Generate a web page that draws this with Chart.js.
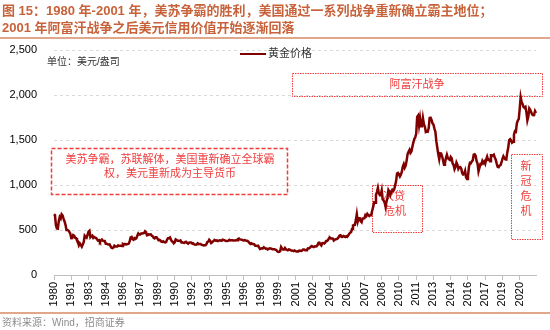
<!DOCTYPE html>
<html>
<head>
<meta charset="utf-8">
<script src="https://cdn.jsdelivr.net/npm/chart.js@4"></script>
<style>
  html, body { margin: 0; padding: 0; background: #fff; }
  #wrap { width: 550px; height: 330px; }
</style>
</head>
<body>
<div id="wrap"><canvas id="goldChart" width="550" height="330"></canvas></div>
<script>
// monthly categories, Jan 1980 - Dec 2021
const months = [];
for (let y = 1980; y <= 2021; y++) {
    for (let m = 1; m <= 12; m++) months.push(y + '-' + String(m).padStart(2, '0'));
}

// gold price, USD/oz, one row per year
const goldPrice = [
    675, 665, 553, 517, 514, 600, 644, 627, 674, 661, 623, 595, // 1980
    557, 500, 499, 495, 480, 460, 409, 410, 443, 437, 413, 410, // 1981
    384, 374, 330, 350, 334, 315, 339, 364, 436, 422, 414, 444, // 1982
    481, 491, 420, 432, 438, 413, 422, 416, 411, 394, 382, 388, // 1983
    370, 386, 394, 381, 377, 378, 347, 348, 341, 340, 341, 320, // 1984
    303, 299, 304, 325, 316, 317, 317, 330, 323, 326, 325, 322, // 1985
    345, 339, 346, 340, 342, 343, 348, 376, 418, 423, 398, 391, // 1986
    409, 401, 409, 438, 461, 450, 450, 460, 460, 465, 467, 487, // 1987
    477, 442, 444, 452, 451, 452, 437, 432, 413, 407, 420, 419, // 1988
    404, 388, 390, 384, 371, 368, 375, 365, 362, 367, 394, 409, // 1989
    410, 417, 393, 374, 369, 352, 362, 395, 389, 380, 381, 378, // 1990
    384, 363, 364, 358, 357, 367, 368, 356, 349, 359, 361, 361, // 1991
    354, 354, 345, 338, 337, 340, 353, 343, 345, 344, 335, 334, // 1992
    329, 330, 330, 342, 367, 371, 392, 379, 355, 364, 374, 383, // 1993
    387, 382, 384, 377, 381, 386, 385, 380, 392, 390, 384, 380, // 1994
    379, 377, 382, 391, 385, 387, 386, 383, 383, 383, 386, 387, // 1995
    400, 405, 396, 393, 392, 385, 383, 387, 383, 381, 378, 369, // 1996
    355, 346, 352, 344, 344, 341, 324, 324, 323, 325, 306, 289, // 1997
    289, 297, 296, 308, 299, 292, 293, 284, 289, 296, 294, 291, // 1998
    287, 287, 286, 282, 277, 262, 256, 257, 265, 311, 293, 283, // 1999
    284, 300, 286, 280, 275, 285, 282, 275, 273, 270, 266, 272, // 2000
    266, 262, 263, 261, 272, 270, 268, 273, 283, 283, 276, 276, // 2001
    282, 296, 294, 302, 314, 322, 314, 310, 319, 317, 319, 333, // 2002
    357, 359, 340, 328, 355, 356, 351, 360, 379, 379, 389, 407, // 2003
    414, 405, 406, 404, 383, 392, 398, 400, 406, 420, 439, 442, // 2004
    424, 423, 434, 429, 422, 431, 424, 438, 457, 470, 476, 510, // 2005
    549, 555, 557, 610, 676, 596, 633, 632, 598, 586, 628, 629, // 2006
    631, 665, 655, 679, 667, 655, 665, 665, 712, 754, 806, 803, // 2007
    889, 922, 968, 909, 888, 889, 939, 839, 829, 807, 760, 816, // 2008
    858, 943, 924, 890, 928, 946, 934, 949, 996, 1043, 1127, 1134, // 2009
    1118, 1095, 1113, 1148, 1205, 1232, 1193, 1215, 1271, 1343, 1370, 1391, // 2010
    1356, 1372, 1424, 1473, 1510, 1529, 1572, 1756, 1772, 1666, 1739, 1652, // 2011
    1656, 1743, 1675, 1649, 1591, 1598, 1594, 1630, 1745, 1747, 1722, 1685, // 2012
    1671, 1627, 1593, 1487, 1414, 1343, 1286, 1352, 1349, 1317, 1275, 1225, // 2013
    1244, 1300, 1336, 1299, 1287, 1279, 1311, 1296, 1239, 1222, 1176, 1201, // 2014
    1251, 1227, 1179, 1198, 1199, 1182, 1131, 1117, 1125, 1157, 1086, 1068, // 2015
    1097, 1199, 1246, 1242, 1261, 1276, 1337, 1341, 1326, 1266, 1238, 1151, // 2016
    1192, 1234, 1231, 1267, 1245, 1260, 1236, 1283, 1315, 1280, 1282, 1265, // 2017
    1331, 1331, 1325, 1335, 1304, 1281, 1238, 1202, 1198, 1215, 1221, 1250, // 2018
    1291, 1320, 1300, 1286, 1284, 1359, 1413, 1500, 1510, 1495, 1471, 1480, // 2019
    1560, 1597, 1591, 1683, 1716, 1732, 1846, 1975, 1921, 1900, 1866, 1858, // 2020
    1867, 1808, 1718, 1760, 1850, 1834, 1807, 1785, 1776, 1777, 1821, 1800  // 2021
];

// x-axis labels, one every 18 months
const tickStep = 18;
const xTickLabels = ['1980', '1981', '1983', '1984', '1986', '1987', '1989', '1990', '1992', '1993',
    '1995', '1996', '1998', '1999', '2001', '2002', '2004', '2005', '2007', '2008',
    '2010', '2011', '2013', '2014', '2016', '2017', '2019', '2020'];

const TITLE_COLOR = '#c8623a';
const NOTE_COLOR = '#f03c3c';
const CJK = '"Liberation Sans", "Noto Sans CJK SC", sans-serif';

// title, source, legend and the red note boxes
const decorPlugin = {
    id: 'decor',
    beforeDatasetsDraw(chart) {
        const ctx = chart.ctx;
        ctx.save();
        const box = (x, y, w, h, dash, lw) => {
            ctx.strokeStyle = NOTE_COLOR;
            ctx.lineWidth = lw;
            ctx.setLineDash(dash);
            ctx.strokeRect(x, y, w, h);
        };
        box(51.5, 148.5, 236, 46, [4, 2], 1.5);
        box(292.5, 73.5, 250, 23, [1.5, 1], 1);
        box(372.5, 185.5, 50, 47, [1.5, 1], 1);
        box(511.5, 154.5, 31, 85, [1.5, 1], 1);
        ctx.setLineDash([]);

        ctx.fillStyle = NOTE_COLOR;
        ctx.font = '11px ' + CJK;
        ctx.textAlign = 'center';
        ctx.textBaseline = 'middle';
        ctx.fillText('美苏争霸，苏联解体，美国重新确立全球霸', 170, 160);
        ctx.fillText('权，美元重新成为主导货币', 170, 174);
        ctx.fillText('阿富汗战争', 417, 85);
        ctx.fillText('次贷', 394, 197);
        ctx.fillText('危机', 395, 212);
        ['新', '冠', '危', '机'].forEach((ch, i) => ctx.fillText(ch, 526, 167 + i * 15));
        ctx.restore();
    },
    afterDraw(chart) {
        const ctx = chart.ctx;
        ctx.save();
        ctx.textBaseline = 'middle';
        ctx.textAlign = 'left';

        ctx.fillStyle = TITLE_COLOR;
        ctx.font = 'bold 13px ' + CJK;
        ctx.fillText('图 15：1980 年-2001 年，美苏争霸的胜利，美国通过一系列战争重新确立霸主地位；', 2, 11);
        ctx.fillText('2001 年阿富汗战争之后美元信用价值开始逐渐回落', 2, 28);

        ctx.strokeStyle = '#d88a66';
        ctx.lineWidth = 1.5;
        ctx.beginPath();
        ctx.moveTo(0, 38); ctx.lineTo(550, 38);
        ctx.moveTo(0, 313); ctx.lineTo(550, 313);
        ctx.stroke();

        ctx.fillStyle = '#8c8c8c';
        ctx.font = '10px ' + CJK;
        ctx.fillText('资料来源：Wind，招商证券', 2, 323);

        ctx.fillStyle = '#333';
        ctx.fillText('单位：美元/盎司', 47, 62);

        ctx.strokeStyle = '#800000';
        ctx.lineWidth = 2;
        ctx.beginPath();
        ctx.moveTo(240, 54); ctx.lineTo(266, 54);
        ctx.stroke();
        ctx.font = '11px ' + CJK;
        ctx.fillText('黄金价格', 268, 54);
        ctx.restore();
    }
};

new Chart(document.getElementById('goldChart'), {
    type: 'line',
    data: {
        labels: months,
        datasets: [{
            label: '黄金价格',
            data: goldPrice,
            borderColor: '#800000',
            borderWidth: 2.5,
            pointRadius: 0,
            tension: 0,
            fill: false
        }]
    },
    options: {
        responsive: false,
        devicePixelRatio: 1,
        animation: false,
        layout: { padding: { top: 50, left: 8, right: 14, bottom: 15 } },
        plugins: { legend: { display: false }, tooltip: { enabled: false } },
        scales: {
            x: {
                afterFit: s => { s.height = 40; },
                afterBuildTicks: s => { s.ticks = s.ticks.filter(t => t.value % tickStep === 0); },
                grid: { drawOnChartArea: false, drawTicks: true, tickLength: 5, color: '#bfbfbf' },
                border: { color: '#bfbfbf' },
                ticks: {
                    autoSkip: false,
                    minRotation: 90,
                    maxRotation: 90,
                    padding: 2,
                    color: '#000',
                    font: { size: 11, family: 'Arial, "Liberation Sans"' },
                    callback: v => xTickLabels[v / tickStep]
                }
            },
            y: {
                min: 0,
                max: 2500,
                afterFit: s => { s.width = 46; },
                grid: { color: '#d9d9d9', drawTicks: false },
                border: { display: false, dash: [3, 3] },
                ticks: {
                    stepSize: 500,
                    padding: 17,
                    color: '#000',
                    font: { size: 11, family: 'Arial, "Liberation Sans"' },
                    callback: v => v.toLocaleString('en-US')
                }
            }
        }
    },
    plugins: [decorPlugin]
});
</script>
</body>
</html>
